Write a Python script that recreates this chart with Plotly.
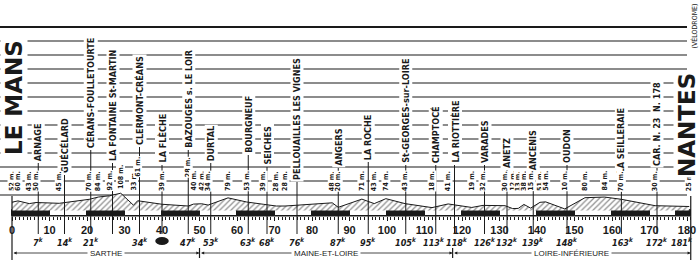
import plotly.graph_objects as go

# ---------------- data ----------------
# altitude profile (km from Le Mans, metres)
prof_km = [0, 1.6, 4.6, 6.4, 12.6, 20.6, 23, 26, 29, 32.4, 33.5, 40, 47, 48.4, 50.6,
           52.3, 57.6, 62.6, 67, 70.5, 72.8, 85.4, 87, 93.3, 96.6, 99.7, 104.8, 112,
           116.3, 122.6, 125.6, 131.5, 133.5, 135, 136.5, 138.3, 140.8, 142.3, 147.4,
           152.8, 158, 162.5, 171.5, 180.6]
prof_alt = [52, 60, 43, 50, 45, 70, 84, 92, 108, 33, 61, 39, 28, 40, 42,
            34, 79, 53, 39, 28, 28, 48, 20, 71, 43, 74, 43, 18,
            41, 19, 32, 30, 12, 13, 38, 15, 51, 54, 10,
            80, 84, 70, 30, 25]

towns = ["ARNAGE", "GUÉCÉLARD", "CÉRANS-FOULLETOURTE", "LA FONTAINE St-MARTIN",
         "CLERMONT-CRÉANS", "LA FLÈCHE", "BAZOUGES s. LE LOIR", "DURTAL", "BOURGNEUF",
         "SEICHES", "PELLOUAILLES LES VIGNES", "ANGERS", "LA ROCHE",
         "St-GEORGES-sur-LOIRE", "CHAMPTOCÉ", "LA RIOTTIÈRE", "VARADES", "ANETZ",
         "ANCENIS", "OUDON", "LA SEILLERAIE", "CAR. N. 23  N. 178"]
town_km = [7, 14, 21, 26.8, 34, 40, 47, 53, 63, 68, 76, 87, 95, 105, 113, 118, 126,
           132, 139, 148, 162.5, 172]

dist_km = [7, 14, 21, 34, 47, 53, 63, 68, 76, 87, 95, 105, 113, 118, 126, 132, 139,
           148, 163, 172, 181]
blot_km = [40]

km_ticks = list(range(0, 181, 10))
band_edges = [0, 10, 20, 30, 40, 50, 60, 70, 80, 90, 100, 110, 120, 130, 140, 150,
              160, 170, 177, 181]

depts = ["SARTHE", "MAINE-ET-LOIRE", "LOIRE-INFÉRIEURE"]
dept_bounds = [0, 50, 117.5, 181]

start_name = "LE MANS"
finish_name = "NANTES"
finish_note = "(VÉLODROME)"

# ---------------- geometry helpers (pixel layout) ----------------
W, H = 700, 275
X0_PX, PX_PER_KM = 12, 3.75
BASE_PX, PX_PER_M = 210.5, 0.16


def km_at(px):
    return (px - X0_PX) / PX_PER_KM


def m_at(py):
    return (BASE_PX - py) / PX_PER_M


def py_paper(py):
    return 1 - py / H


INK = "#1a1a1a"
NARROW = "Liberation Sans Narrow, DejaVu Sans Condensed, Arial Narrow, sans-serif"

name_bottom_px = [163, 175, 150, 163, 147, 165, 150, 163, 155, 167, 182, 168, 162, 165,
                  165, 165, 165, 170, 172, 165, 175, 168]
alt_raise = {10: 178, 12: 178}

fig = go.Figure()

# kilometre band (alternating black / white)
b_top, b_bot = 210, 216
centers = [(a + b) / 2 for a, b in zip(band_edges[:-1], band_edges[1:])]
widths = [b - a for a, b in zip(band_edges[:-1], band_edges[1:])]
colors = [INK if i % 2 == 0 else "white" for i in range(len(centers))]
fig.add_trace(go.Bar(x=centers, width=widths, base=m_at(b_bot),
                     y=[m_at(b_top) - m_at(b_bot)] * len(centers),
                     marker=dict(color=colors, line=dict(color=INK, width=1)),
                     hoverinfo="skip", showlegend=False))

# altitude profile with hatching
fig.add_trace(go.Scatter(x=prof_km, y=prof_alt, mode="lines", fill="tozeroy",
                         line=dict(color=INK, width=1),
                         fillcolor="white",
                         fillpattern=dict(shape="/", fgcolor=INK, bgcolor="white",
                                          size=4, solidity=0.3),
                         hoverinfo="skip", showlegend=False))

shapes = []
# horizontal guide lines
for i in range(13):
    y = 27 + 14 * i
    shapes.append(dict(type="line", xref="paper", yref="paper",
                       x0=0, x1=687 / W, y0=py_paper(y), y1=py_paper(y),
                       line=dict(color=INK, width=2 if i == 0 else 1.2), layer="below"))

# vertical lines under town names
for k, nb in zip(town_km, name_bottom_px):
    shapes.append(dict(type="line", xref="x", yref="paper", x0=k, x1=k,
                       y0=py_paper(nb), y1=py_paper(234),
                       line=dict(color=INK, width=1), layer="above"))

# start / finish / boundaries marks
for i, k in enumerate(dept_bounds):
    if i == 0 or i == len(dept_bounds) - 1:
        y0, y1 = 196, 260
    else:
        y0, y1 = 248, 258
    shapes.append(dict(type="line", xref="x", yref="paper", x0=k, x1=k,
                       y0=py_paper(y0), y1=py_paper(y1),
                       line=dict(color=INK, width=1.2), layer="above"))

# axis line under band
shapes.append(dict(type="line", xref="x", yref="paper", x0=0, x1=181,
                   y0=py_paper(b_bot), y1=py_paper(b_bot),
                   line=dict(color=INK, width=1), layer="above"))

# ink blot
for k in blot_km:
    shapes.append(dict(type="circle", xref="x", yref="paper",
                       x0=k - 1.8, x1=k + 1.8, y0=py_paper(245), y1=py_paper(237),
                       fillcolor=INK, line=dict(color=INK, width=0)))

ann = []
# town names (rotated)
for name, k, nb in zip(towns, town_km, name_bottom_px):
    ann.append(dict(x=k, y=py_paper(nb), xref="x", yref="paper", text=f"<b>{name}</b>",
                    textangle=-90, xanchor="center", yanchor="bottom", showarrow=False,
                    font=dict(family=NARROW, size=9, color=INK), bgcolor="white",
                    borderpad=1))

# altitude labels
for i, (k, a) in enumerate(zip(prof_km, prof_alt)):
    bottom = min(192, BASE_PX - a * PX_PER_M - 3)
    if i in alt_raise:
        bottom = alt_raise[i]
    ann.append(dict(x=k, y=py_paper(bottom), xref="x", yref="paper", text=f"<b>{a} m.</b>",
                    textangle=-90, xanchor="center", yanchor="bottom", showarrow=False,
                    font=dict(family=NARROW, size=7, color=INK), bgcolor="white",
                    borderpad=0))

# distance labels (nudge tight neighbours apart)
for j, k in enumerate(dist_km):
    anchor = "right" if j == len(dist_km) - 1 else "center"
    shift = 0
    if j + 1 < len(dist_km) and dist_km[j + 1] - k <= 5 and k >= 100:
        shift = -2
    if j > 0 and k - dist_km[j - 1] <= 5 and dist_km[j - 1] >= 100:
        shift = 2
    ann.append(dict(x=k + (1.2 if anchor == "right" else 0), y=py_paper(242),
                    xref="x", yref="paper", xshift=shift,
                    text=f"<b><i>{k}<sup>k</sup></i></b>", xanchor=anchor,
                    yanchor="middle", showarrow=False,
                    font=dict(family=NARROW, size=9, color=INK)))

# department arrows and names
for i, d in enumerate(depts):
    a, b = dept_bounds[i], dept_bounds[i + 1]
    ann.append(dict(x=b, y=py_paper(253), xref="x", yref="paper", ax=a, ay=0, axref="x",
                    text="", showarrow=True, arrowhead=2, arrowside="end+start",
                    arrowsize=0.8, arrowwidth=0.8, arrowcolor=INK, standoff=0,
                    startstandoff=0))
    ann.append(dict(x=(a + b) / 2, y=py_paper(253), xref="x", yref="paper",
                    text=d, showarrow=False, xanchor="center", yanchor="middle",
                    font=dict(family="Liberation Sans, Arial, sans-serif", size=8, color=INK),
                    bgcolor="white", borderpad=2))

# big start / finish names
ann.append(dict(x=km_at(13.5), y=py_paper(156), xref="x", yref="paper",
                text=f"<b>{start_name}</b>", textangle=-90, xanchor="center",
                yanchor="bottom", showarrow=False,
                font=dict(family="DejaVu Sans, sans-serif", size=23, color=INK),
                bgcolor="white", borderpad=0))
ann.append(dict(x=km_at(687), y=py_paper(178), xref="x", yref="paper",
                text=f"<b>{finish_name}</b>", textangle=-90, xanchor="center",
                yanchor="bottom", showarrow=False,
                font=dict(family="DejaVu Sans, sans-serif", size=23, color=INK),
                bgcolor="white", borderpad=0))
ann.append(dict(x=km_at(694), y=py_paper(2), xref="x", yref="paper",
                text=finish_note, textangle=-90, xanchor="center",
                yanchor="top", showarrow=False,
                font=dict(family=NARROW, size=7, color=INK)))

fig.update_layout(
    width=W, height=H, margin=dict(l=0, r=0, t=0, b=0),
    paper_bgcolor="white", plot_bgcolor="white",
    shapes=shapes, annotations=ann, bargap=0,
    xaxis=dict(range=[km_at(0), km_at(W)], showgrid=False, zeroline=False,
               showline=False, anchor="free", position=py_paper(b_bot),
               tickmode="array", tickvals=km_ticks,
               ticktext=[f"<b>{t}</b>" for t in km_ticks],
               ticks="outside", ticklen=4, tickwidth=1.2, tickcolor=INK,
               tickfont=dict(family="Liberation Sans, Arial, sans-serif", size=11,
                             color=INK),
               minor=dict(tickmode="array", tickvals=list(range(0, 182)),
                          ticks="outside", ticklen=3, tickwidth=0.8, tickcolor=INK,
                          showgrid=False),
               fixedrange=True),
    yaxis=dict(range=[m_at(H), m_at(0)], visible=False, fixedrange=True),
)

fig.write_html("out.html")
